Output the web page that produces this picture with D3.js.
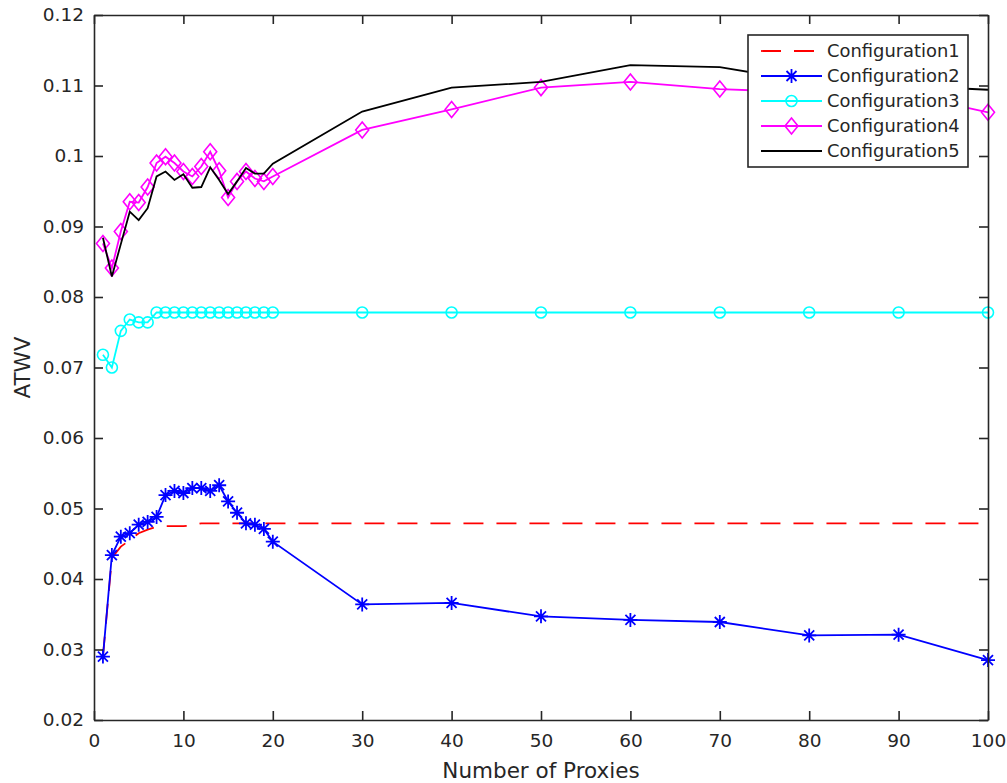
<!DOCTYPE html>
<html>
<head>
<meta charset="utf-8">
<script src="https://cdn.jsdelivr.net/npm/d3@7"></script>
<style>
  body { margin: 0; background: #fff; }
  text { font-family: "DejaVu Sans", sans-serif; fill: #262626; }
</style>
</head>
<body>
<script>
// number of proxies (x) shared by every configuration
var proxies = [1,2,3,4,5,6,7,8,9,10,11,12,13,14,15,16,17,18,19,20,30,40,50,60,70,80,90,100];

var config1 = [0.0290,0.0430,0.0446,0.0455,0.0465,0.0470,0.0474,0.0475,0.0475,0.0475,0.0476,0.0479,0.0479,0.0479,0.0479,0.0479,0.0479,0.0479,0.0479,0.0479,
               0.0479,0.0479,0.0479,0.0479,0.0479,0.0479,0.0479,0.0479];
var config2 = [0.0290,0.0434,0.0460,0.0465,0.0477,0.0481,0.0488,0.0519,0.0525,0.0522,0.0529,0.0529,0.0525,0.0533,0.0510,0.0494,0.0479,0.0477,0.0471,0.0453,
               0.0364,0.0366,0.0347,0.0342,0.0339,0.0320,0.0321,0.0285];
var config3 = [0.0718,0.0700,0.0752,0.0768,0.0764,0.0764,0.0778,0.0778,0.0778,0.0778,0.0778,0.0778,0.0778,0.0778,0.0778,0.0778,0.0778,0.0778,0.0778,0.0778,
               0.0778,0.0778,0.0778,0.0778,0.0778,0.0778,0.0778,0.0778];
var config4 = [0.0876,0.0841,0.0893,0.0935,0.0934,0.0956,0.0990,0.0999,0.0990,0.0978,0.0971,0.0985,0.1006,0.0979,0.0941,0.0964,0.0978,0.0968,0.0964,0.0971,
               0.1037,0.1066,0.1097,0.1105,0.1095,0.1090,0.1090,0.1062];
var config5 = [0.0884,0.0829,0.0875,0.0921,0.0909,0.0926,0.0971,0.0978,0.0966,0.0974,0.0955,0.0956,0.0984,0.0966,0.0946,0.0964,0.0983,0.0975,0.0975,0.0989,
               0.1063,0.1097,0.1105,0.1129,0.1126,0.1105,0.1100,0.1094];

var seriesNames = ["Configuration1","Configuration2","Configuration3","Configuration4","Configuration5"];
var xTicks = [0,10,20,30,40,50,60,70,80,90,100];
var yTicks = [0.02,0.03,0.04,0.05,0.06,0.07,0.08,0.09,0.1,0.11,0.12];
var yTickLabels = ["0.02","0.03","0.04","0.05","0.06","0.07","0.08","0.09","0.1","0.11","0.12"];

var width = 1007, height = 783;
var plotL = 94, plotR = 988, plotT = 15, plotB = 720;
var axisColor = "#262626";

var x = d3.scaleLinear().domain([0,100]).range([plotL,plotR]);
var y = d3.scaleLinear().domain([0.02,0.12]).range([plotB,plotT]);

var svg = d3.select("body").append("svg")
  .attr("width",width)
  .attr("height",height);

var styles = [
  {data: config1, color: "#ff0000", dash: "20,13", marker: null},
  {data: config2, color: "#0000ff", dash: null, marker: "star"},
  {data: config3, color: "#00ffff", dash: null, marker: "circle"},
  {data: config4, color: "#ff00ff", dash: null, marker: "diamond"},
  {data: config5, color: "#000000", dash: null, marker: null}
];

function drawMarker(g, type, cx, cy, color){
  if (type=="star") {
    var r = 7, d = 5;
    var p = "M"+(cx-r)+","+cy+"L"+(cx+r)+","+cy+
            "M"+cx+","+(cy-r)+"L"+cx+","+(cy+r)+
            "M"+(cx-d)+","+(cy-d)+"L"+(cx+d)+","+(cy+d)+
            "M"+(cx-d)+","+(cy+d)+"L"+(cx+d)+","+(cy-d);
    g.append("path").attr("d",p).attr("stroke",color).attr("stroke-width",1.8).attr("fill","none");
  } else if (type=="circle") {
    g.append("circle").attr("cx",cx).attr("cy",cy).attr("r",5.5)
      .attr("stroke",color).attr("stroke-width",1.6).attr("fill","none");
  } else if (type=="diamond") {
    var w = 6.5, h = 8;
    g.append("path")
      .attr("d","M"+cx+","+(cy-h)+"L"+(cx+w)+","+cy+"L"+cx+","+(cy+h)+"L"+(cx-w)+","+cy+"Z")
      .attr("stroke",color).attr("stroke-width",1.6).attr("fill","none");
  }
}

var line = d3.line()
  .x(function(d){ return x(d[0]); })
  .y(function(d){ return y(d[1]); });

var plot = svg.append("g");
styles.forEach(function(s){
  var pts = proxies.map(function(p,i){ return [p, s.data[i]]; });
  plot.append("path")
    .attr("d", line(pts))
    .attr("fill","none")
    .attr("stroke", s.color)
    .attr("stroke-width", 1.8)
    .attr("stroke-dasharray", s.dash);
  if (s.marker) {
    pts.forEach(function(d){ drawMarker(plot, s.marker, x(d[0]), y(d[1]), s.color); });
  }
});

// axes, ticks pointing inward on all four sides
function styleAxis(g){
  g.selectAll("path").attr("stroke",axisColor).attr("stroke-width",1.6);
  g.selectAll("line").attr("stroke",axisColor).attr("stroke-width",1.6);
  g.selectAll("text").attr("font-size",18.5).attr("fill",axisColor)
    .attr("font-family","DejaVu Sans, sans-serif");
}

svg.append("g")
  .attr("transform","translate(0,"+plotB+")")
  .call(d3.axisBottom(x).tickValues(xTicks).tickSizeInner(-9).tickSizeOuter(0).tickPadding(14))
  .call(styleAxis);
svg.append("g")
  .attr("transform","translate(0,"+plotT+")")
  .call(d3.axisTop(x).tickValues(xTicks).tickSizeInner(-9).tickSizeOuter(0).tickFormat(""))
  .call(styleAxis);
svg.append("g")
  .attr("transform","translate("+plotL+",0)")
  .call(d3.axisLeft(y).tickValues(yTicks).tickSizeInner(-9).tickSizeOuter(0).tickPadding(10)
    .tickFormat(function(d,i){ return yTickLabels[i]; }))
  .call(styleAxis);
svg.append("g")
  .attr("transform","translate("+plotR+",0)")
  .call(d3.axisRight(y).tickValues(yTicks).tickSizeInner(-9).tickSizeOuter(0).tickFormat(""))
  .call(styleAxis);

// axis titles
svg.append("text")
  .attr("x",(plotL+plotR)/2)
  .attr("y",778)
  .attr("text-anchor","middle")
  .attr("font-size",21.5)
  .text("Number of Proxies");
svg.append("text")
  .attr("transform","translate(30,"+((plotT+plotB)/2)+") rotate(-90)")
  .attr("text-anchor","middle")
  .attr("font-size",21.5)
  .text("ATWV");

// legend
var legend = svg.append("g");
legend.append("rect")
  .attr("x",748).attr("y",35)
  .attr("width",220).attr("height",132)
  .attr("fill","#fff")
  .attr("stroke",axisColor)
  .attr("stroke-width",1.6);
styles.forEach(function(s,i){
  var ly = 51 + i*25;
  legend.append("line")
    .attr("x1",761).attr("x2",822)
    .attr("y1",ly).attr("y2",ly)
    .attr("stroke",s.color)
    .attr("stroke-width",1.8)
    .attr("stroke-dasharray",s.dash);
  if (s.marker) drawMarker(legend, s.marker, 791.5, ly, s.color);
  legend.append("text")
    .attr("x",827).attr("y",ly)
    .attr("dy","0.36em")
    .attr("font-size",17.9)
    .text(seriesNames[i]);
});
</script>
</body>
</html>
